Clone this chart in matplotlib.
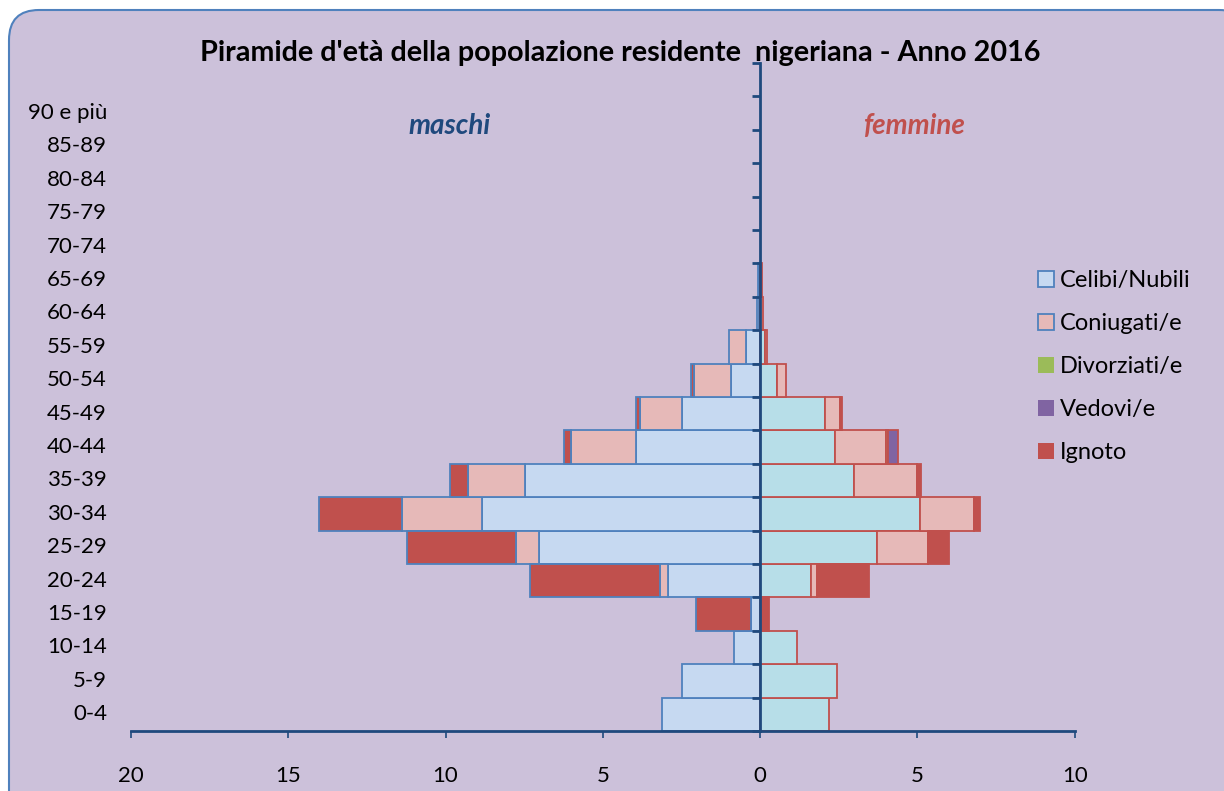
import matplotlib.pyplot as plt
from matplotlib.patches import FancyBboxPatch, Patch
import numpy as np

plt.rcParams['font.family'] = ['Lato', 'DejaVu Sans']

eta = ['0-4', '5-9', '10-14', '15-19', '20-24', '25-29', '30-34', '35-39',
       '40-44', '45-49', '50-54', '55-59', '60-64', '65-69', '70-74',
       '75-79', '80-84', '85-89', '90 e più']

# maschi (valori percentuali)
m_celibi = [3.11, 2.47, 0.83, 0.28, 2.92, 7.02, 8.85, 7.47, 3.94, 2.47, 0.92, 0.46, 0.05, 0.05, 0, 0, 0, 0, 0]
m_coniugati = [0, 0, 0, 0, 0.27, 0.73, 2.53, 1.83, 2.07, 1.36, 1.19, 0.54, 0.05, 0.03, 0, 0, 0, 0, 0]
m_divorziati = [0] * 19
m_vedovi = [0] * 19
m_ignoto = [0, 0, 0, 1.75, 4.12, 3.46, 2.65, 0.56, 0.21, 0.10, 0.08, 0, 0, 0, 0, 0, 0, 0, 0]

# femmine
f_nubili = [2.18, 2.45, 1.17, 0.05, 1.63, 3.73, 5.08, 3.00, 2.37, 2.07, 0.53, 0.15, 0, 0, 0, 0, 0, 0, 0]
f_coniugate = [0, 0, 0, 0, 0.17, 1.62, 1.73, 2.00, 1.62, 0.46, 0.28, 0.08, 0.10, 0.05, 0, 0, 0, 0, 0]
f_divorziate = [0, 0, 0, 0, 0, 0, 0, 0, 0.07, 0.05, 0, 0, 0, 0, 0, 0, 0, 0, 0]
f_vedove = [0, 0, 0, 0, 0, 0, 0, 0, 0.31, 0, 0, 0, 0, 0, 0, 0, 0, 0, 0]
f_ignoto = [0, 0, 0, 0.22, 1.66, 0.66, 0.19, 0.10, 0, 0.03, 0, 0, 0, 0, 0, 0, 0, 0, 0]

fig = plt.figure(figsize=(12.24, 7.91), dpi=100)
fig.patch.set_facecolor('white')
bg = FancyBboxPatch((0.09, -0.3), 12.4, 8.11, boxstyle='round,pad=0,rounding_size=0.3',
                    transform=fig.dpi_scale_trans, facecolor='#CCC1DA',
                    edgecolor='#4F81BD', linewidth=1.5, zorder=-5)
fig.patches.append(bg)

ax = fig.add_axes([0.107, 0.0759, 0.771, 0.8445])
ax.set_facecolor('none')

y = np.arange(len(eta))
blu = '#4F81BD'
rosso = '#C0504D'

m_serie = [(m_celibi, '#C6D9F1'), (m_coniugati, '#E6B9B8'), (m_divorziati, '#9BBB59'),
           (m_vedovi, '#8064A2'), (m_ignoto, '#C0504D')]
cum = np.zeros(len(eta))
for vals, col in m_serie:
    v = np.array(vals)
    mask = v > 0
    ax.barh(y[mask], -v[mask], left=-cum[mask], height=1.0, color=col, edgecolor=blu, linewidth=1.3)
    cum += v

f_serie = [(f_nubili, '#B7DEE8'), (f_coniugate, '#E6B9B8'), (f_divorziate, '#9BBB59'),
           (f_vedove, '#8064A2'), (f_ignoto, '#C0504D')]
cum = np.zeros(len(eta))
for vals, col in f_serie:
    v = np.array(vals)
    mask = v > 0
    ax.barh(y[mask], v[mask], left=cum[mask], height=1.0, color=col, edgecolor=rosso, linewidth=1.3)
    cum += v

ax.set_xlim(-20, 10)
ax.set_ylim(-0.5, 19.5)

ax.spines['right'].set_visible(False)
ax.spines['top'].set_visible(False)
ax.spines['left'].set_position(('data', 0))
ax.spines['left'].set_color('#1F497D')
ax.spines['left'].set_linewidth(2)
ax.spines['bottom'].set_color('#1F497D')
ax.spines['bottom'].set_linewidth(2)

ax.set_yticks(np.arange(-0.5, 20, 1))
ax.set_yticklabels([])
ax.tick_params(axis='y', length=6, width=2, color='#1F497D', direction='out')

xt = [-20, -15, -10, -5, 0, 5, 10]
ax.set_xticks(xt)
ax.set_xticklabels([str(abs(t)) for t in xt], fontsize=16)
ax.tick_params(axis='x', length=5, width=1.2, color='#1F497D', pad=20)

for i, lab in enumerate(eta):
    ax.text(-0.0254, i, lab, transform=ax.get_yaxis_transform(), ha='right', va='center', fontsize=16)

ax.text(-9.87, 17.6, 'maschi', color='#1F497D', fontsize=20, fontweight='bold',
        fontstyle='italic', ha='center', va='center')
ax.text(4.91, 17.6, 'femmine', color='#C0504D', fontsize=20, fontweight='bold',
        fontstyle='italic', ha='center', va='center')

fig.text(0.507, 1 - 53 / 791, "Piramide d'età della popolazione residente  nigeriana - Anno 2016",
         ha='center', va='center', fontsize=20.7, fontweight='bold')

handles = [Patch(facecolor='#C6D9F1', edgecolor=blu, linewidth=1.3, label='Celibi/Nubili'),
           Patch(facecolor='#E6B9B8', edgecolor=blu, linewidth=1.3, label='Coniugati/e'),
           Patch(facecolor='#9BBB59', label='Divorziati/e'),
           Patch(facecolor='#8064A2', label='Vedovi/e'),
           Patch(facecolor='#C0504D', label='Ignoto')]
fig.legend(handles=handles, loc='upper left', bbox_to_anchor=(1017 / 1224, 1 - 249 / 791),
           frameon=False, fontsize=17, handlelength=0.65, handleheight=0.65,
           handletextpad=0.25, labelspacing=0.93)

fig.savefig('out.png', dpi=100)
